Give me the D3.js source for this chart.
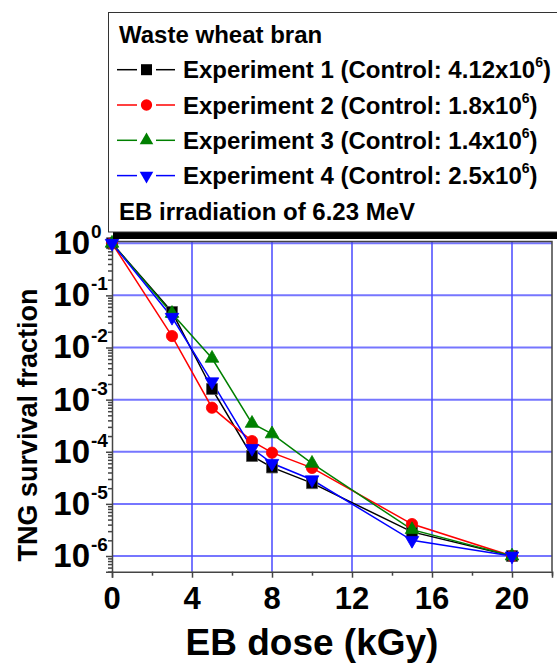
<!DOCTYPE html>
<html>
<head>
<meta charset="utf-8">
<script src="https://cdn.jsdelivr.net/npm/d3@7"></script>
<style>
  body { margin: 0; background: #fff; }
  svg { display: block; font-family: "Liberation Sans", Arial, sans-serif; font-weight: bold; }
</style>
</head>
<body>
<svg id="chart"></svg>
<script>
const width = 557;
const height = 664;

// EB dose (kGy)
const dose = [0, 3, 5, 7, 8, 10, 15, 20];
// TNG survival fraction per experiment
const exp1 = [1, 0.048, 1.6e-3, 8.3e-5, 5.0e-5, 2.5e-5, 2.9e-6, 1e-6];
const exp2 = [1, 0.0166, 7.0e-4, 1.6e-4, 9.6e-5, 4.9e-5, 4.1e-6, 1e-6];
const exp3 = [1, 0.045, 6.2e-3, 3.5e-4, 2.2e-4, 6.0e-5, 3.2e-6, 1e-6];
const exp4 = [1, 0.038, 2.2e-3, 1.16e-4, 6.0e-5, 2.9e-5, 2.0e-6, 1e-6];

const seriesNames = ['Experiment 1', 'Experiment 2', 'Experiment 3', 'Experiment 4'];
const controls = ['4.12', '1.8', '1.4', '2.5'];
const seriesColors = ['#000000', '#ff0000', '#008000', '#0000ff'];
const seriesSymbols = ['square', 'circle', 'up', 'down'];

const xTicks = [0, 4, 8, 12, 16, 20];
const xMinor = [2, 6, 10, 14, 18, 22];
const yExps = [0, -1, -2, -3, -4, -5, -6];

const svg = d3.select('#chart')
    .attr('width', width)
    .attr('height', height);

const x = d3.scaleLinear().domain([0, 22]).range([112, 552]);
const y = d3.scaleLog().domain([5e-7, 1.08]).range([571.7, 241.5]);

// grid
svg.append('g').selectAll('line')
    .data(yExps)
    .enter().append('line')
    .attr('x1', x(0)).attr('x2', x(22))
    .attr('y1', d => y(Math.pow(10, d))).attr('y2', d => y(Math.pow(10, d)))
    .style('stroke', '#7676ff').style('stroke-width', 2);

svg.append('g').selectAll('line')
    .data(xTicks.slice(1))
    .enter().append('line')
    .attr('x1', d => x(d)).attr('x2', d => x(d))
    .attr('y1', y.range()[0]).attr('y2', y.range()[1])
    .style('stroke', '#4848ff').style('stroke-width', 1.5);

// frame (top and right)
svg.append('path')
    .attr('d', `M${x(0)},${y.range()[1]}H${x(22)}V${y.range()[0]}`)
    .style('fill', 'none').style('stroke', '#444').style('stroke-width', 1.5);

// x axis
svg.append('g')
    .attr('transform', `translate(0,${y.range()[0]})`)
    .call(d3.axisBottom(x).tickValues(xTicks).tickSize(6).tickFormat(''));
svg.append('g')
    .attr('transform', `translate(0,${y.range()[0]})`)
    .call(d3.axisBottom(x).tickValues(xMinor).tickSize(4).tickFormat(''))
    .select('.domain').remove();

// y axis
const yMinor = [];
d3.range(-7, 1).forEach(e => {
    d3.range(2, 10).forEach(m => {
        const v = m * Math.pow(10, e);
        if (v >= 5e-7 && v <= 1.08) yMinor.push(v);
    });
});
svg.append('g')
    .attr('transform', `translate(${x(0)},0)`)
    .call(d3.axisLeft(y).tickValues(yExps.map(e => Math.pow(10, e))).tickSize(6).tickFormat(''));
svg.append('g')
    .attr('transform', `translate(${x(0)},0)`)
    .call(d3.axisLeft(y).tickValues(yMinor).tickSize(4).tickFormat(''))
    .select('.domain').remove();

svg.selectAll('.domain, .tick line').style('stroke', '#444').style('stroke-width', 1.5);

// tick labels
svg.append('g').selectAll('text')
    .data(xTicks)
    .enter().append('text')
    .attr('x', d => x(d))
    .attr('y', 609)
    .attr('text-anchor', 'middle')
    .style('font-size', '31px')
    .text(d => d);

const yLab = svg.append('g').selectAll('g')
    .data(yExps)
    .enter().append('g');
yLab.append('text')
    .attr('x', 90)
    .attr('y', d => y(Math.pow(10, d)) + 11)
    .attr('text-anchor', 'end')
    .style('font-size', '33px')
    .text('10');
yLab.append('text')
    .attr('x', 91)
    .attr('y', d => y(Math.pow(10, d)) - 5)
    .style('font-size', '19px')
    .text(d => d === 0 ? '0' : '-' + Math.abs(d));

// axis titles
svg.append('text')
    .attr('transform', 'translate(37,425) rotate(-90)')
    .attr('text-anchor', 'middle')
    .style('font-size', '27px')
    .text('TNG survival fraction');

svg.append('text')
    .attr('x', x(10))
    .attr('y', 655)
    .attr('text-anchor', 'middle')
    .style('font-size', '37px')
    .text('EB dose (kGy)');

// series
const allSeries = [exp1, exp2, exp3, exp4];
const line = d3.line()
    .x(d => x(d[0]))
    .y(d => y(d[1]));

const symbolPath = (kind) => {
    if (kind === 'square') return d3.symbol(d3.symbolSquare, 121)();
    if (kind === 'circle') return d3.symbol(d3.symbolCircle, 100)();
    return d3.symbol(d3.symbolTriangle, 80)();
};

allSeries.forEach((vals, i) => {
    const pts = dose.map((d, j) => [d, vals[j]]);
    svg.append('path')
        .datum(pts)
        .attr('d', line)
        .style('fill', 'none')
        .style('stroke', seriesColors[i])
        .style('stroke-width', 1.5);
});
allSeries.forEach((vals, i) => {
    const pts = dose.map((d, j) => [d, vals[j]]);
    svg.append('g').selectAll('path')
        .data(pts)
        .enter().append('path')
        .attr('d', symbolPath(seriesSymbols[i]))
        .attr('transform', d => `translate(${x(d[0])},${y(d[1])})` + (seriesSymbols[i] === 'down' ? ' rotate(180)' : ''))
        .style('fill', seriesColors[i])
        .style('stroke', i === 0 ? '#555' : seriesColors[i])
        .style('stroke-width', 0.8);
});

// legend
const legend = svg.append('g');
legend.append('rect')
    .attr('x', 113).attr('y', 17)
    .attr('width', 460).attr('height', 222)
    .style('fill', '#000');
legend.append('rect')
    .attr('x', 108.5).attr('y', 12.5)
    .attr('width', 460).attr('height', 219.5)
    .style('fill', '#fff').style('stroke', '#333').style('stroke-width', 1);

const rowY = i => 43 + 35.3 * i;

legend.append('text')
    .attr('x', 119).attr('y', rowY(0))
    .style('font-size', '24px')
    .text('Waste wheat bran');

seriesNames.forEach((name, i) => {
    const by = rowY(i + 1);
    const cy = by - 8.6;
    const g = legend.append('g');
    g.append('line')
        .attr('x1', 117).attr('x2', 137).attr('y1', cy).attr('y2', cy)
        .style('stroke', seriesColors[i]).style('stroke-width', 1.5);
    g.append('line')
        .attr('x1', 156).attr('x2', 175).attr('y1', cy).attr('y2', cy)
        .style('stroke', seriesColors[i]).style('stroke-width', 1.5);
    g.append('path')
        .attr('d', symbolPath(seriesSymbols[i]))
        .attr('transform', `translate(146.5,${cy})` + (seriesSymbols[i] === 'down' ? ' rotate(180)' : ''))
        .style('fill', seriesColors[i]);
    const t = g.append('text')
        .attr('x', 183).attr('y', by)
        .style('font-size', '24px');
    t.append('tspan').text(`${name} (Control: ${controls[i]}x10`);
    t.append('tspan').attr('dy', -11).style('font-size', '14px').text('6');
    t.append('tspan').attr('dy', 11).text(')');
});

legend.append('text')
    .attr('x', 119).attr('y', rowY(5))
    .style('font-size', '24px')
    .text('EB irradiation of 6.23 MeV');
</script>
</body>
</html>
